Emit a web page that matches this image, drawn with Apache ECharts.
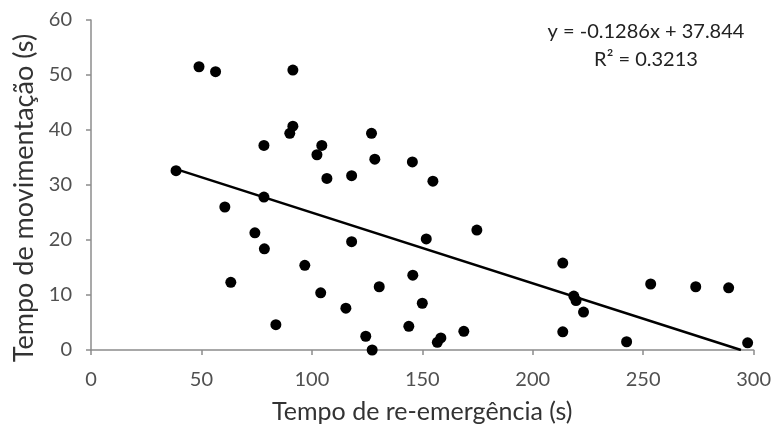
<!DOCTYPE html>
<html>
<head>
<meta charset="utf-8">
<script src="https://cdn.jsdelivr.net/npm/echarts@6/dist/echarts.min.js"></script>
<style>
  html, body { margin: 0; padding: 0; background: #fff; }
  #chart { width: 774px; height: 431px; }
</style>
</head>
<body>
<div id="chart"></div>
<script>
// Re-emergence time (x, s) against movement time (y, s)
const reEmergence = [38.5, 48.9, 56.4, 60.6, 63.3, 74.2, 78.3, 78.3, 78.5, 83.7,
  91.4, 90.0, 91.4, 96.8, 102.3, 104.5, 104.0, 106.8, 115.4, 118.0,
  118.0, 124.4, 127.3, 127.0, 128.5, 130.5, 143.9, 145.5, 145.7, 150.0,
  151.8, 154.8, 156.8, 158.4, 168.8, 174.7, 213.6, 213.6, 218.6, 219.6,
  223.0, 242.5, 253.4, 273.8, 288.7, 297.3];
const movement = [32.6, 51.5, 50.6, 26.0, 12.3, 21.3, 37.2, 27.8, 18.4, 4.6,
  50.9, 39.4, 40.7, 15.4, 35.5, 37.2, 10.4, 31.2, 7.6, 31.7,
  19.7, 2.5, 0.0, 39.4, 34.7, 11.5, 4.3, 34.2, 13.6, 8.5,
  20.2, 30.7, 1.4, 2.2, 3.4, 21.8, 15.8, 3.3, 9.8, 9.0,
  6.9, 1.5, 12.0, 11.5, 11.3, 1.3];

// Linear fit shown on the chart
const slope = -0.1286;
const intercept = 37.844;
const equationLines = ['y = -0.1286x + 37.844', 'R² = 0.3213'];

const xTicks = { min: 0, max: 300, interval: 50 };
const yTicks = { min: 0, max: 60, interval: 10 };

const points = reEmergence.map((x, i) => [x, movement[i]]);
const xStart = Math.min(...reEmergence);
const xEnd = -intercept / slope;
const fitLine = [[xStart, slope * xStart + intercept], [xEnd, 0]];

const FONT = 'Lato, "Open Sans", sans-serif';
const axisGray = '#8c8c8c';
const labelGray = '#505050';

const chart = echarts.init(document.getElementById('chart'), null, { renderer: 'canvas' });
chart.setOption({
  animation: false,
  backgroundColor: '#fff',
  grid: { left: 91, right: 20, top: 20, bottom: 81, containLabel: false },
  xAxis: {
    type: 'value', min: xTicks.min, max: xTicks.max, interval: xTicks.interval,
    name: 'Tempo de re-emergência (s)', nameLocation: 'middle', nameGap: 49,
    nameTextStyle: { fontFamily: FONT, fontSize: 25, color: '#333' },
    axisLine: { show: true, onZero: false, lineStyle: { color: axisGray, width: 1.5 } },
    axisTick: { show: true, length: 5, lineStyle: { color: axisGray, width: 1.5 } },
    axisLabel: { fontFamily: FONT, fontSize: 20, color: labelGray, margin: 20 },
    splitLine: { show: false }
  },
  yAxis: {
    type: 'value', min: yTicks.min, max: yTicks.max, interval: yTicks.interval,
    name: 'Tempo de movimentação (s)', nameLocation: 'middle', nameGap: 52,
    nameRotate: 90,
    nameTextStyle: { fontFamily: FONT, fontSize: 27, color: '#333', padding: [0, 26, 0, 0] },
    axisLine: { show: true, lineStyle: { color: axisGray, width: 1.5 } },
    axisTick: { show: true, length: 5, lineStyle: { color: axisGray, width: 1.5 } },
    axisLabel: { fontFamily: FONT, fontSize: 20, color: labelGray, margin: 19 },
    splitLine: { show: false }
  },
  series: [
    {
      type: 'line', data: fitLine, symbol: 'none', silent: true,
      lineStyle: { color: '#000', width: 2.5 }, z: 2
    },
    {
      type: 'scatter', data: points, symbol: 'circle', symbolSize: 11,
      itemStyle: { color: '#000', opacity: 1 }, z: 3
    }
  ],
  graphic: [
    {
      type: 'text', x: 646, y: 18,
      style: {
        text: equationLines.join('\n'),
        align: 'center', verticalAlign: 'top',
        font: '20px ' + FONT, fill: '#222', lineHeight: 28
      }
    }
  ]
});
</script>
</body>
</html>
